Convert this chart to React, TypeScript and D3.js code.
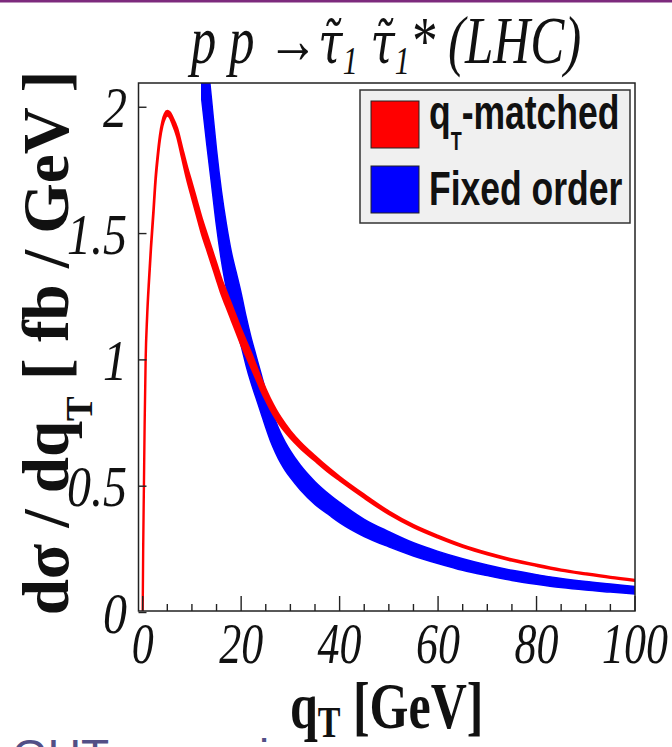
import React from "react";
import * as d3 from "d3";

const W = 672;
const H = 747;

// q_T-matched prediction: central value and half-width of its band (fb/GeV)
const matchedQT = [0, 0.1, 0.25, 0.4, 0.6, 0.9, 1.3, 1.7, 2.2, 2.6, 3, 3.5, 4, 4.5, 5, 5.5, 6, 7, 8, 9, 10, 11, 12, 13, 14, 15, 16, 17, 18, 19, 20, 21, 22, 23, 24, 25, 26, 27, 28, 30, 32, 35, 38, 40, 45, 50, 55, 60, 65, 70, 75, 80, 85, 90, 95, 100];
const matchedCentral = [0, 0.25, 0.5, 0.75, 1.0, 1.17, 1.32, 1.45, 1.59, 1.71, 1.795, 1.88, 1.935, 1.965, 1.976, 1.97, 1.95, 1.9, 1.82, 1.74, 1.67, 1.6, 1.53, 1.47, 1.41, 1.35, 1.29, 1.24, 1.19, 1.14, 1.09, 1.045, 1.0, 0.953, 0.905, 0.862, 0.822, 0.787, 0.756, 0.705, 0.663, 0.61, 0.56, 0.53, 0.46, 0.395, 0.342, 0.3, 0.263, 0.233, 0.208, 0.187, 0.168, 0.153, 0.139, 0.127];
const matchedHalf = [0.002, 0.002, 0.003, 0.004, 0.005, 0.006, 0.007, 0.008, 0.009, 0.009, 0.009, 0.009, 0.009, 0.009, 0.009, 0.01, 0.012, 0.016, 0.02, 0.024, 0.027, 0.028, 0.029, 0.029, 0.029, 0.029, 0.029, 0.029, 0.029, 0.029, 0.029, 0.028, 0.027, 0.025, 0.023, 0.021, 0.019, 0.0175, 0.016, 0.013, 0.011, 0.009, 0.008, 0.007, 0.006, 0.005, 0.004, 0.0035, 0.003, 0.0028, 0.0025, 0.0022, 0.002, 0.0018, 0.0016, 0.0015];

// Fixed-order prediction: central value and half-width of its band (fb/GeV)
const fixedQT = [12, 13, 14, 15, 16, 17, 18, 19, 20, 21, 22, 23, 24, 25, 26, 27, 28, 29, 30, 32, 35, 38, 40, 45, 50, 55, 60, 65, 70, 75, 80, 85, 90, 95, 100];
const fixedCentral = [2.23, 2.04, 1.86, 1.68, 1.53, 1.41, 1.31, 1.235, 1.16, 1.075, 1.0, 0.935, 0.87, 0.805, 0.745, 0.695, 0.652, 0.617, 0.587, 0.535, 0.473, 0.425, 0.396, 0.335, 0.29, 0.25, 0.218, 0.19, 0.167, 0.147, 0.131, 0.117, 0.106, 0.097, 0.088];
const fixedHalf = [0.2, 0.184, 0.167, 0.151, 0.138, 0.127, 0.118, 0.111, 0.104, 0.097, 0.09, 0.084, 0.078, 0.073, 0.068, 0.063, 0.059, 0.056, 0.053, 0.049, 0.045, 0.041, 0.04, 0.034, 0.03, 0.026, 0.024, 0.023, 0.021, 0.02, 0.019, 0.018, 0.017, 0.016, 0.015];

const xMajorTicks = [0, 20, 40, 60, 80, 100];
const xTickLabels = ["0", "20", "40", "60", "80", "100"];
const yTicks = [0, 0.5, 1, 1.5, 2];
const yTickLabels = ["0", "0.5", "1", "1.5", "2"];

const X_DOMAIN: [number, number] = [-0.85, 100];
const Y_DOMAIN: [number, number] = [0.006, 2.096];

const SERIF = "'Liberation Serif', 'Times New Roman', serif";
const ACCENT_SERIF = "'DejaVu Serif', 'Liberation Serif', serif";
const SANS = "'Liberation Sans', Arial, sans-serif";

function bandPath(
  qt: number[],
  central: number[],
  half: number[],
  x: d3.ScaleLinear<number, number>,
  y: d3.ScaleLinear<number, number>
) {
  const idx = qt.map((_, i) => i);
  const area = d3
    .area<number>()
    .x((i) => x(qt[i]))
    .y0((i) => y(central[i] - half[i]))
    .y1((i) => y(central[i] + half[i]))
    .curve(d3.curveMonotoneX);
  return area(idx) || "";
}

export default function App() {
  const left = 138.5;
  const right = 635;
  const top = 83;
  const bottom = 611;

  const x = d3.scaleLinear().domain(X_DOMAIN).range([left, right]);
  const y = d3.scaleLinear().domain(Y_DOMAIN).range([bottom, top]);

  const xMinor = d3.range(5, 100, 5).filter((v) => v % 20 !== 0);

  const xTickSY = 1.3;
  const yTickSY = 1.2;
  const legendSY = 1.38;

  // tau carrying a combining tilde, followed by subscript 1
  const tauTilde = (key: string) => [
    <tspan key={`${key}-t`} fontFamily={ACCENT_SERIF} fontSize={44}>{"\u03C4\u0303"}</tspan>,
    <tspan key={`${key}-s`} dy={8} fontSize={30}>1</tspan>,
  ];

  return (
    <svg
      width={W}
      height={H}
      viewBox={`0 0 ${W} ${H}`}
      style={{ position: "absolute", left: 0, top: 0, background: "#fff" }}
    >
      <rect x={0} y={0} width={W} height={H} fill="#fff" />
      <rect x={0} y={0} width={W} height={2.5} fill="#7d2a7d" />

      <defs>
        <clipPath id="plot-clip">
          <rect x={left} y={top} width={right - left} height={bottom - top} />
        </clipPath>
      </defs>

      {/* bands */}
      <g clipPath="url(#plot-clip)">
        <path
          d={bandPath(fixedQT, fixedCentral, fixedHalf, x, y)}
          fill="#0000ff"
          stroke="#0000ff"
          strokeWidth={1.5}
          strokeLinejoin="round"
        />
        <path
          d={bandPath(matchedQT, matchedCentral, matchedHalf, x, y)}
          fill="#ff0000"
          stroke="#ff0000"
          strokeWidth={2.4}
          strokeLinejoin="round"
        />
      </g>

      {/* frame */}
      <rect
        x={left}
        y={top}
        width={right - left}
        height={bottom - top}
        fill="none"
        stroke="#222"
        strokeWidth={1.5}
      />

      {/* x ticks */}
      {xMajorTicks.map((v) => (
        <line key={`xM${v}`} x1={x(v)} x2={x(v)} y1={bottom} y2={bottom - 15} stroke="#222" strokeWidth={1.4} />
      ))}
      {xMinor.map((v) => (
        <line key={`xm${v}`} x1={x(v)} x2={x(v)} y1={bottom} y2={bottom - 7} stroke="#222" strokeWidth={1.4} />
      ))}
      {/* y ticks */}
      {yTicks.map((v) => (
        <line key={`y${v}`} x1={left} x2={left + 8} y1={y(v)} y2={y(v)} stroke="#222" strokeWidth={1.4} />
      ))}

      {/* x tick labels */}
      {xMajorTicks.map((v, i) => (
        <text
          key={`xl${v}`}
          transform={`translate(${x(v)},${663}) scale(1,${xTickSY})`}
          textAnchor="middle"
          fontFamily={SERIF}
          fontStyle="italic"
          fontSize={44}
          fill="#111"
        >
          {xTickLabels[i]}
        </text>
      ))}
      {/* y tick labels */}
      {yTicks.map((v, i) => (
        <text
          key={`yl${v}`}
          transform={`translate(${127},${y(v) + 20}) scale(1,${yTickSY})`}
          textAnchor="end"
          fontFamily={SERIF}
          fontStyle="italic"
          fontSize={48}
          fill="#111"
        >
          {yTickLabels[i]}
        </text>
      ))}

      {/* title */}
      <text
        transform={`translate(386,63) scale(1,1.32)`}
        textAnchor="middle"
        fontFamily={SERIF}
        fontStyle="italic"
        fontSize={51}
        fill="#111"
      >
        <tspan>p p </tspan>
        <tspan fontStyle="normal">→</tspan>
        {tauTilde("a")}
        <tspan dy={-8}> </tspan>
        {tauTilde("b")}
        <tspan dy={-8}>* (LHC)</tspan>
      </text>

      {/* y axis title */}
      <text
        transform={`translate(68,343) rotate(-90)`}
        textAnchor="middle"
        fontFamily={SERIF}
        fontWeight="bold"
        fontSize={65}
        fill="#111"
      >
        <tspan>dσ / dq</tspan>
        <tspan fontSize={37} dy={24}>T</tspan>
        <tspan dy={-24}> [ fb / GeV ]</tspan>
      </text>

      {/* x axis title */}
      <text
        transform={`translate(290,728) scale(1,1.3)`}
        fontFamily={SERIF}
        fontWeight="bold"
        fontSize={50}
        fill="#111"
      >
        <tspan>q</tspan>
        <tspan fontSize={34} dy={7}>T</tspan>
        <tspan dy={-7}> [GeV]</tspan>
      </text>

      {/* legend */}
      <rect x={360} y={90} width={270} height={133} fill="#f0f0f0" stroke="#333" strokeWidth={1.5} />
      <rect x={371} y={101} width={48} height={47} fill="#ff0000" stroke="#222" strokeWidth={1} />
      <rect x={371} y={166} width={48} height={47} fill="#0000ff" stroke="#222" strokeWidth={1} />
      <text
        transform={`translate(429,129) scale(1,${legendSY})`}
        fontFamily={SANS}
        fontWeight="bold"
        fontSize={35.5}
        fill="#111"
      >
        <tspan>q</tspan>
        <tspan fontSize={18} dy={15}>T</tspan>
        <tspan dy={-15}>-matched</tspan>
      </text>
      <text
        transform={`translate(429,205) scale(1,${legendSY})`}
        fontFamily={SANS}
        fontWeight="bold"
        fontSize={35.5}
        fill="#111"
      >
        Fixed order
      </text>

      {/* slide caption below the figure */}
      <text x={12} y={772} fontFamily={SANS} fontSize={46} fill="#524f86">
        GUT scenario
      </text>
    </svg>
  );
}
